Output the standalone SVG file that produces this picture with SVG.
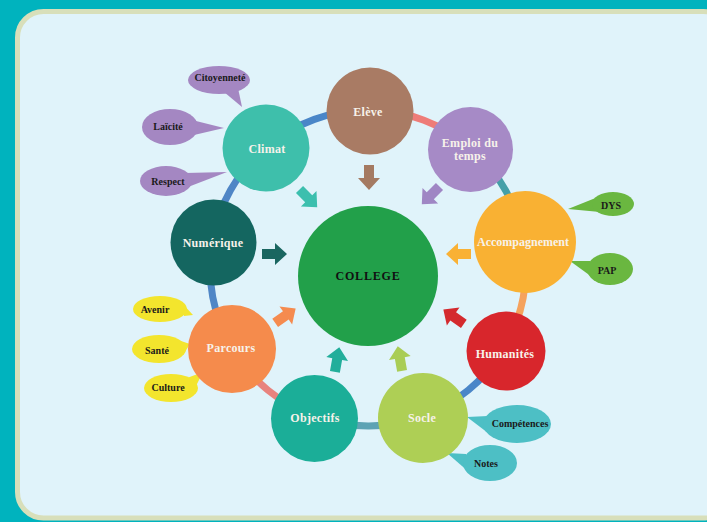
<svg xmlns="http://www.w3.org/2000/svg" width="707" height="522" viewBox="0 0 707 522">
<defs>
<style>
.lbl{font-family:"Liberation Serif","Times New Roman",serif;font-weight:bold;font-size:12px;fill:#F7F2EA;text-anchor:middle;dominant-baseline:central;letter-spacing:0.3px}
.co{font-family:"Liberation Serif","Times New Roman",serif;font-weight:bold;font-size:10px;fill:#1A1A1A;text-anchor:middle;dominant-baseline:central}
.ring{fill:none;stroke-width:7}
</style>
<path id="arr" d="M-12,-5 H1 V-11 L13,0 L1,11 V5 H-12 Z"/>
</defs>
<rect x="0" y="0" width="707" height="522" fill="#00B3BE"/>
<rect x="17.5" y="11.5" width="712" height="506.5" rx="26" fill="#E0F3FA" stroke="#D8DFBA" stroke-width="5"/>

<g id="connectors">
<path class="ring" stroke="#4A86C8" d="M265.6,147.7 A158,158 0 0 1 369.9,110"/>
<path class="ring" stroke="#EE7C78" d="M369.9,110 A158,158 0 0 1 471.2,148.4"/>
<path class="ring" stroke="#45A0A8" d="M471.2,148.4 A158,158 0 0 1 523.9,242.2"/>
<path class="ring" stroke="#F5A25D" d="M523.9,242.2 A158,158 0 0 1 503,350.1"/>
<path class="ring" stroke="#4A86C8" d="M503,350.1 A158,158 0 0 1 422.3,416.4"/>
<path class="ring" stroke="#5DA3B4" d="M422.3,416.4 A158,158 0 0 1 315.3,416.9"/>
<path class="ring" stroke="#E8837E" d="M315.3,416.9 A158,158 0 0 1 232.3,348.9"/>
<path class="ring" stroke="#4F86C6" d="M232.3,348.9 A158,158 0 0 1 212.2,241.9"/>
<path class="ring" stroke="#4F86C6" d="M212.2,241.9 A158,158 0 0 1 265.6,147.7"/>
<use href="#arr" fill="#3CBFAE" transform="translate(308,198) rotate(45)"/>
<use href="#arr" fill="#A47A62" transform="translate(369,177) rotate(90)"/>
<use href="#arr" fill="#9F86C4" transform="translate(431,195) rotate(135)"/>
<use href="#arr" fill="#1A6660" transform="translate(274,254)"/>
<use href="#arr" fill="#F9B135" transform="translate(459,254) rotate(180)"/>
<use href="#arr" fill="#F58B4F" transform="translate(285,316) rotate(-35)"/>
<use href="#arr" fill="#D42A2E" transform="translate(454,317) rotate(-145)"/>
<use href="#arr" fill="#22AE9B" transform="translate(337,360) rotate(-80)"/>
<use href="#arr" fill="#A9CD55" transform="translate(400,359) rotate(-100)"/>
</g>

<g id="callout-citoyennete" fill="#A487C2"><polygon points="224,92 238,88 242,107"/><ellipse cx="219" cy="80" rx="31" ry="14"/><text class="co" x="220" y="77">Citoyenneté</text></g>
<g id="callout-laicite" fill="#A487C2"><polygon points="192,120 194,135 224,128"/><ellipse cx="170" cy="127" rx="28" ry="18"/><text class="co" x="168" y="126">Laïcité</text></g>
<g id="callout-respect" fill="#A487C2"><polygon points="185,173 188,187 227,172"/><ellipse cx="166" cy="181" rx="26" ry="15"/><text class="co" x="168" y="181">Respect</text></g>
<g id="callout-avenir" fill="#F3E52D"><polygon points="181,302 184,316 193,315"/><ellipse cx="160" cy="309" rx="27" ry="13"/><text class="co" x="155" y="309">Avenir</text></g>
<g id="callout-sante" fill="#F3E52D"><polygon points="181,341 183,355 190,344"/><ellipse cx="159" cy="349" rx="27" ry="14"/><text class="co" x="157" y="350">Santé</text></g>
<g id="callout-culture" fill="#F3E52D"><polygon points="187,378 195,388 203,372"/><ellipse cx="171" cy="388" rx="27" ry="14"/><text class="co" x="168" y="387">Culture</text></g>
<g id="callout-dys" fill="#6AB740"><polygon points="598,197 600,212 568,209"/><ellipse cx="613" cy="204" rx="21" ry="12"/><text class="co" x="611" y="205">DYS</text></g>
<g id="callout-pap" fill="#6AB740"><polygon points="590,261 592,277 570,261"/><ellipse cx="610" cy="269" rx="23" ry="16"/><text class="co" x="607" y="270">PAP</text></g>
<g id="callout-competences" fill="#4DBFC5"><polygon points="488,416 488,433 467,417"/><ellipse cx="517" cy="424" rx="34" ry="19"/><text class="co" x="520" y="423">Compétences</text></g>
<g id="callout-notes" fill="#4DBFC5"><polygon points="466,454 470,473 447,453"/><ellipse cx="490" cy="463" rx="27" ry="18"/><text class="co" x="486" y="463">Notes</text></g>

<g id="node-climat"><circle cx="266" cy="148" r="43.5" fill="#3EBFAB"/><text class="lbl" x="267" y="149">Climat</text></g>
<g id="node-eleve"><circle cx="370" cy="111" r="43.5" fill="#A97B64"/><text class="lbl" x="368" y="112">Elève</text></g>
<g id="node-emploi"><circle cx="470.5" cy="149.5" r="42.5" fill="#A68AC6"/><text class="lbl" x="470" y="143">Emploi du</text><text class="lbl" x="470" y="156">temps</text></g>
<g id="node-numerique"><circle cx="213.5" cy="242.5" r="43" fill="#146660"/><text class="lbl" x="213" y="243">Numérique</text></g>
<g id="node-accompagnement"><circle cx="525" cy="242" r="51" fill="#F9B133"/><text class="lbl" x="523" y="242" style="letter-spacing:0">Accompagnement</text></g>
<g id="node-college"><circle cx="368" cy="276" r="70" fill="#22A04A"/><text class="lbl" x="368" y="276" style="fill:#111;letter-spacing:0.8px">COLLEGE</text></g>
<g id="node-parcours"><circle cx="232" cy="349" r="44" fill="#F58B4C"/><text class="lbl" x="231" y="348">Parcours</text></g>
<g id="node-humanites"><circle cx="506" cy="351" r="39.5" fill="#D8262C"/><text class="lbl" x="505" y="354">Humanités</text></g>
<g id="node-objectifs"><circle cx="314.5" cy="418.5" r="43.5" fill="#1BAE98"/><text class="lbl" x="315" y="418">Objectifs</text></g>
<g id="node-socle"><circle cx="423" cy="418" r="45" fill="#AECF55"/><text class="lbl" x="422" y="418">Socle</text></g>
</svg>
